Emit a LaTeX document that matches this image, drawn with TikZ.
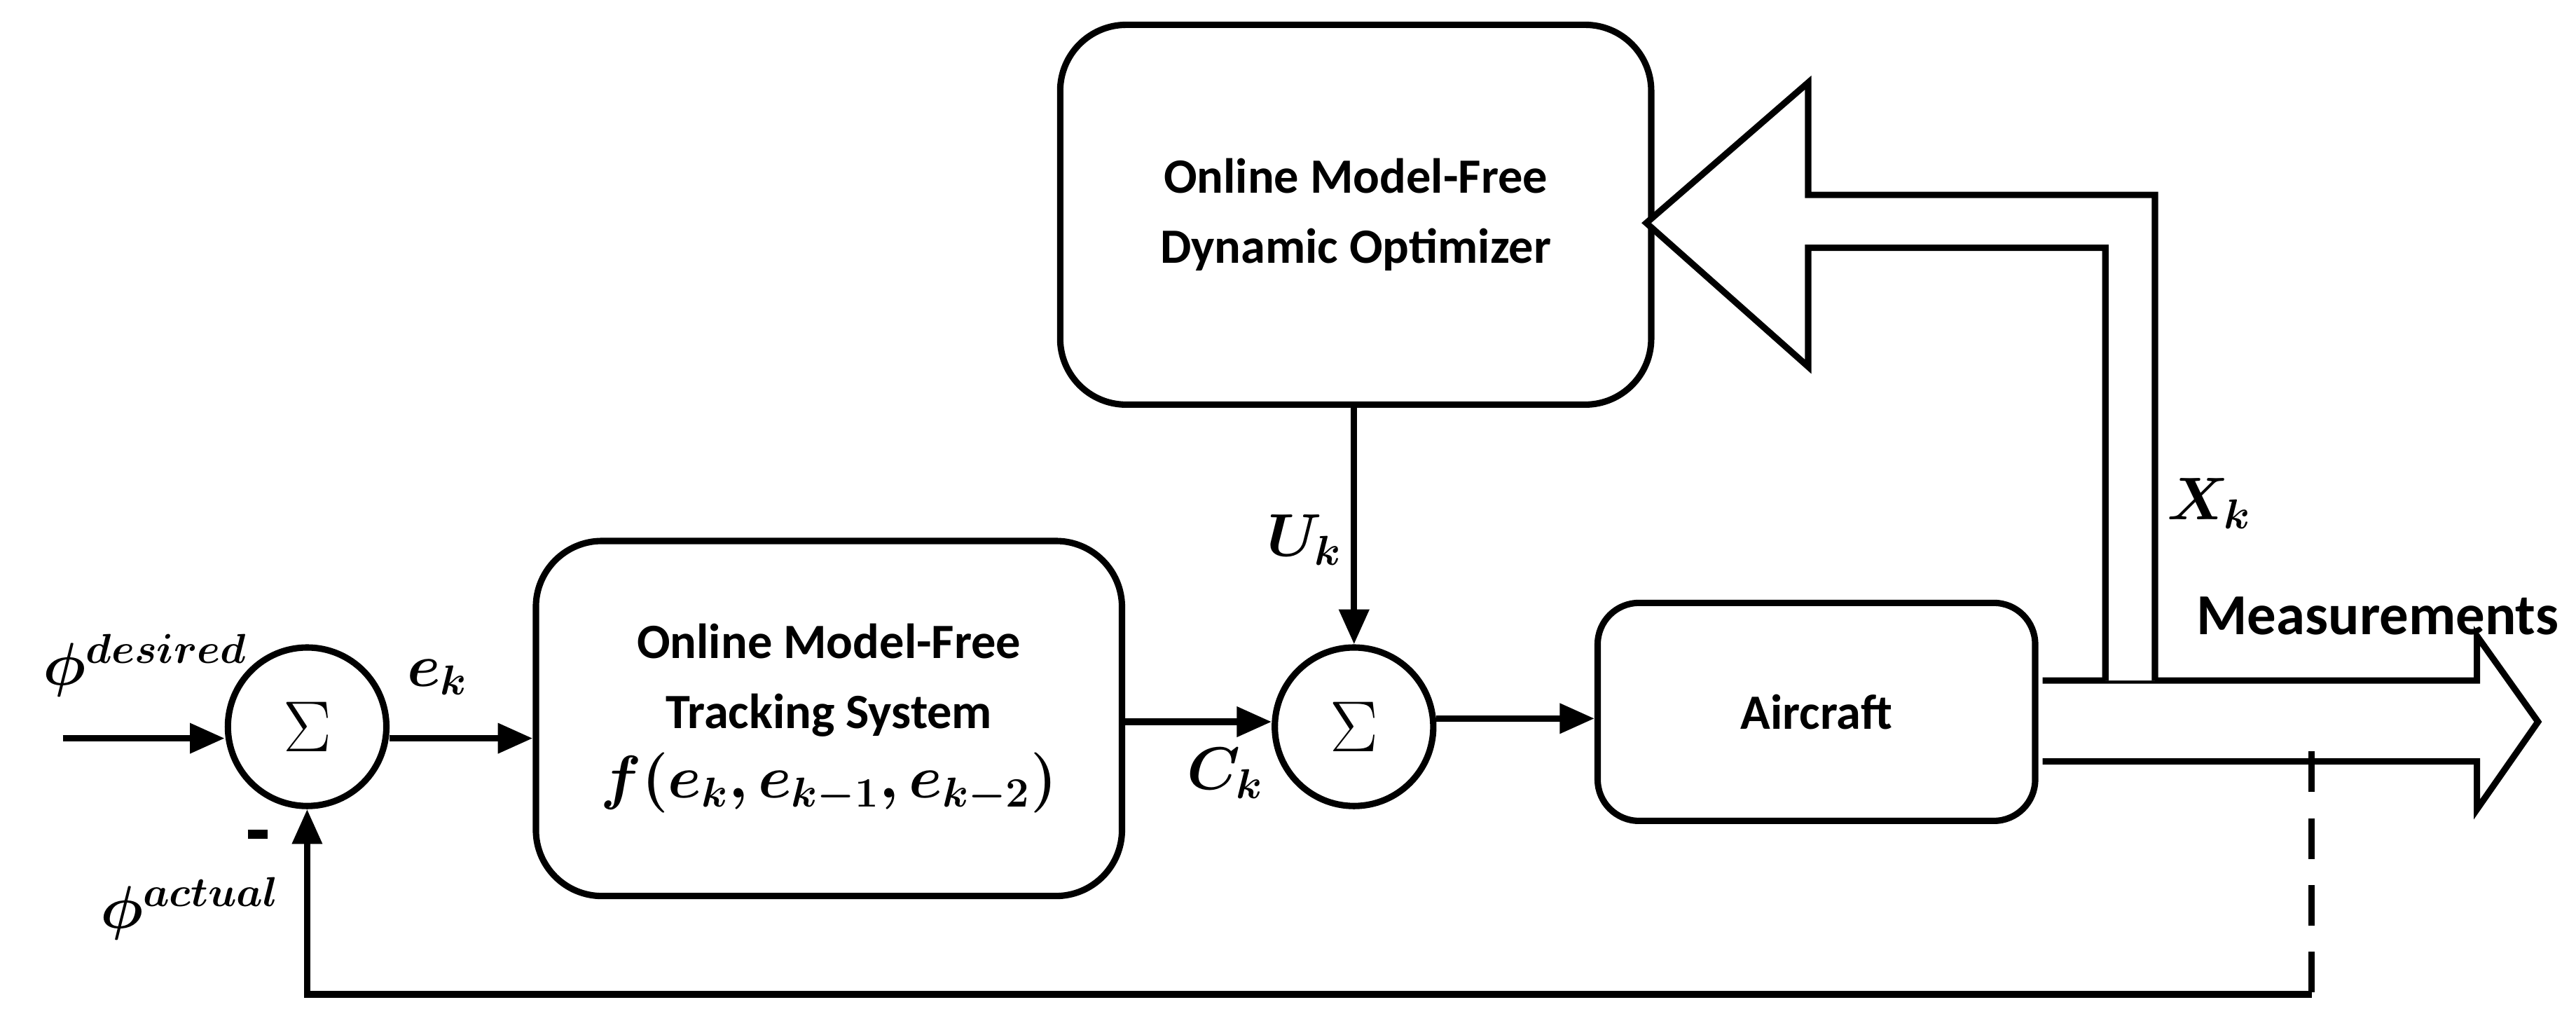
\documentclass[tikz,border=0pt]{standalone}
\usepackage{amsmath,bm}
\usepackage{fontspec}
\setmainfont{Carlito}
\usetikzlibrary{arrows.meta}
\begin{document}
\begin{tikzpicture}[x=0.02cm,y=-0.02cm,line width=2.2pt,
  blk/.style={draw,rounded corners=0.8cm,align=center,font=\fontsize{17}{24}\selectfont\bfseries,inner sep=0pt},
  sm/.style={draw,circle,minimum size=1.92cm,inner sep=0pt,font=\fontsize{28}{30}\selectfont},
  lab/.style={font=\fontsize{20}{22}\selectfont\bfseries},
  ar/.style={-{Triangle[length=12pt,width=10pt]}}]
\useasboundingbox (0,0) rectangle (1560,622);
\node[sm] (s1) at (186,440) {$\Sigma$};
\node[sm] (s2) at (820,440) {$\Sigma$};
\node[blk,minimum width=7.1cm,minimum height=4.3cm] (trk) at (502,435) {Online Model-Free\\Tracking System\\{\fontsize{20}{24}\selectfont$\bm{f(e_k,e_{k-1},e_{k-2})}$}};
\node[blk,minimum width=7.16cm,minimum height=4.6cm] (opt) at (821,130) {Online Model-Free\\Dynamic Optimizer};
\node[blk,rounded corners=0.5cm,minimum width=5.3cm,minimum height=2.64cm] (ac) at (1100,431) {Aircraft};
\coordinate (in) at (38,447);
\draw[ar] (in) -- (s1.west|-in);
\node[lab] at (88,403) {$\bm{\phi^{desired}}$};
\draw[ar] (s1.east|-in) -- (trk.west|-in);
\node[lab] at (265,410) {$\bm{e_k}$};
\draw[ar] (trk.east|-0,437) -- (s2.west|-0,437);
\node[lab] at (742,468) {$\bm{C_k}$};
\draw[ar] (opt.south-|s2) -- (s2.north);
\node[lab] at (790,327) {$\bm{U_k}$};
\draw[ar] (s2.east|-0,435) -- (ac.west|-0,435);
% measurement hollow arrow
\draw[fill=white,line join=miter] (1237,412) -- (1500,412) -- (1500,385) -- (1537,437) -- (1500,490) -- (1500,461) -- (1237,461);
\node[lab] at (1440,373) {Measurements};
% feedback hollow arrow
\draw[fill=white,line join=miter] (1275,412) -- (1275,150) -- (1095,150) -- (1095,222) -- (997,135) -- (1095,50) -- (1095,118) -- (1305,118) -- (1305,412);
\node[lab] at (1338,305) {$\bm{X_k}$};
% feedback
\coordinate (d1) at (1400,455);
\coordinate (d2) at (1400,602);
\draw[dash pattern=on 14pt off 9pt] (d1) -- (d2);
\draw[ar] (d2) -- (s1|-d2) -- (s1.south);
\coordinate (m1) at (150,505); \coordinate (m2) at (162,505);
\draw[line width=3pt] (m1) -- (m2);
\node[lab] at (115,550) {$\bm{\phi^{actual}}$};
\end{tikzpicture}
\end{document}
